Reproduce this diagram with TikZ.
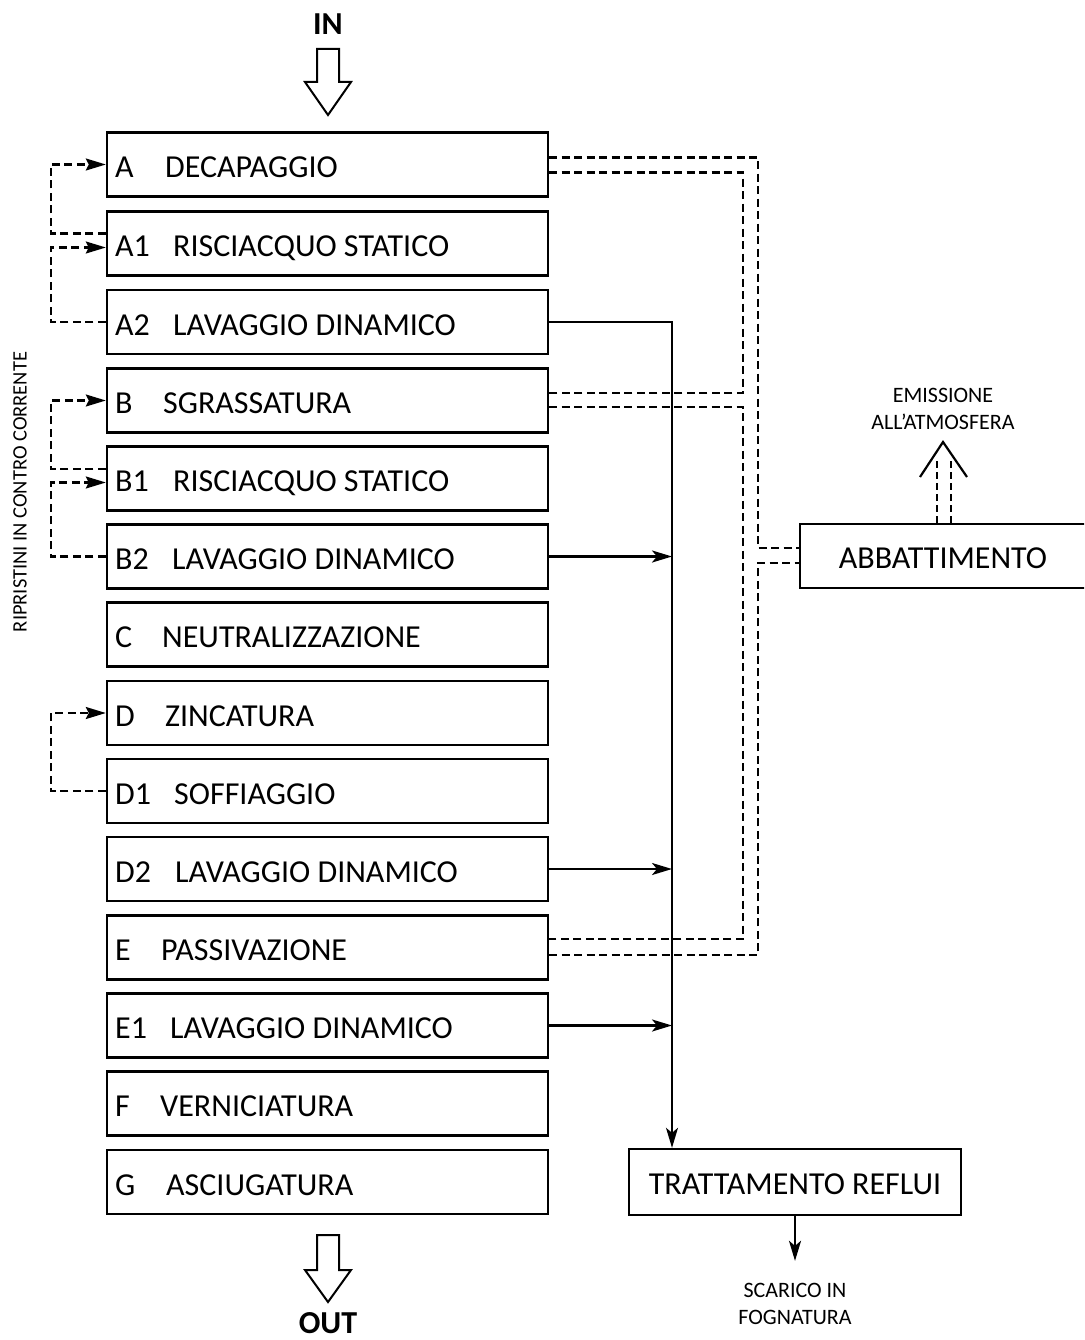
\documentclass[tikz,border=0pt]{standalone}
\usepackage{fontspec}
\setmainfont{Carlito}
\usetikzlibrary{arrows.meta}
\begin{document}
\begin{tikzpicture}[x=1pt,y=-1pt,
  stepbox/.style={draw,line width=2.4pt,minimum width=441pt,minimum height=64pt,inner sep=0pt},
  codelbl/.style={anchor=base west,inner sep=0pt,font=\fontsize{32}{36}\selectfont},
  steplbl/.style={anchor=base west,inner sep=0pt,font=\fontsize{32}{36}\selectfont},
  smalltxt/.style={font=\fontsize{22}{27.5}\selectfont,align=center,inner sep=0pt},
  dl/.style={line width=2.2pt,dash pattern=on 8pt off 4.5pt},
  sl/.style={line width=1.6pt},
  sa/.style={line width=2.4pt},
  tipd/.style={-{Stealth[length=20pt,width=12pt,inset=3pt]}},
  tips/.style={-{Stealth[length=20pt,width=12pt,inset=5pt]}},
  blockarrow/.style={draw,line width=2pt,fill=white}
]
\useasboundingbox (0,0) rectangle (1084,1340);

% IN / OUT
\node[font=\bfseries\fontsize{32}{36}\selectfont,anchor=base,inner sep=0pt] (in) at (328,35) {IN};
\draw[blockarrow] (317,49)--(339,49)--(339,82)--(351,82)--(328,115)--(305,82)--(317,82)--cycle;
\draw[blockarrow] (317,1235)--(339,1235)--(339,1270)--(351,1270)--(328,1302)--(305,1270)--(317,1270)--cycle;
\node[font=\bfseries\fontsize{32}{36}\selectfont,anchor=base,inner sep=0pt] (out) at (328,1333) {OUT};

% step boxes
\node[stepbox] (A)  at (327.5,164.5) {};
\node[stepbox] (A1) at (327.5,243.5) {};
\node[stepbox] (A2) at (327.5,322) {};
\node[stepbox] (B)  at (327.5,400.5) {};
\node[stepbox] (B1) at (327.5,478.5) {};
\node[stepbox] (B2) at (327.5,556.5) {};
\node[stepbox] (C)  at (327.5,634.5) {};
\node[stepbox] (D)  at (327.5,713) {};
\node[stepbox] (D1) at (327.5,791) {};
\node[stepbox] (D2) at (327.5,869) {};
\node[stepbox] (E)  at (327.5,947.5) {};
\node[stepbox] (E1) at (327.5,1025.5) {};
\node[stepbox] (F)  at (327.5,1103.5) {};
\node[stepbox] (G)  at (327.5,1182) {};

% labels
\node[codelbl] (Ac)  at (115,177.5) {A};   \node[steplbl] (An)  at (165,177.5) {DECAPAGGIO};
\node[codelbl] (A1c) at (115,256.5) {A1};  \node[steplbl] (A1n) at (173,256.5) {RISCIACQUO STATICO};
\node[codelbl] (A2c) at (115,335) {A2};    \node[steplbl] (A2n) at (173,335) {LAVAGGIO DINAMICO};
\node[codelbl] (Bc)  at (115,413.5) {B};   \node[steplbl] (Bn)  at (163,413.5) {SGRASSATURA};
\node[codelbl] (B1c) at (115,491.5) {B1};  \node[steplbl] (B1n) at (173,491.5) {RISCIACQUO STATICO};
\node[codelbl] (B2c) at (115,569.5) {B2};  \node[steplbl] (B2n) at (172,569.5) {LAVAGGIO DINAMICO};
\node[codelbl] (Cc)  at (115,647.5) {C};   \node[steplbl] (Cn)  at (162,647.5) {NEUTRALIZZAZIONE};
\node[codelbl] (Dc)  at (115,726) {D};     \node[steplbl] (Dn)  at (165,726) {ZINCATURA};
\node[codelbl] (D1c) at (115,804) {D1};    \node[steplbl] (D1n) at (174,804) {SOFFIAGGIO};
\node[codelbl] (D2c) at (115,882) {D2};    \node[steplbl] (D2n) at (175,882) {LAVAGGIO DINAMICO};
\node[codelbl] (Ec)  at (115,960.5) {E};   \node[steplbl] (En)  at (161,960.5) {PASSIVAZIONE};
\node[codelbl] (E1c) at (115,1038.5) {E1}; \node[steplbl] (E1n) at (170,1038.5) {LAVAGGIO DINAMICO};
\node[codelbl] (Fc)  at (115,1116.5) {F};  \node[steplbl] (Fn)  at (160,1116.5) {VERNICIATURA};
\node[codelbl] (Gc)  at (115,1195) {G};    \node[steplbl] (Gn)  at (166,1195) {ASCIUGATURA};

% side label
\node[font=\fontsize{20.5}{24}\selectfont,inner sep=0pt,rotate=90] (rip) at (20,492) {RIPRISTINI IN CONTRO CORRENTE};

% left dashed loops
\draw[dl,tipd] ([yshift=10pt]A1.west) -- ++(-55,0) |- (A.west);
\draw[dl,tipd] (A2.west) -- ++(-55,0) |- ([yshift=-4pt]A1.west);
\draw[dl,tipd] ([yshift=9.5pt]B1.west) -- ++(-55,0) |- (B.west);
\draw[dl,tipd] (B2.west) -- ++(-55,0) |- ([yshift=-4pt]B1.west);
\draw[dl,tipd] (D1.west) -- ++(-55,0) |- (D.west);

% right-side boxes
\begin{scope}
\clip (0,0) rectangle (1084,1340);
\node[draw,line width=2.4pt,minimum width=290pt,minimum height=64pt,inner sep=0pt] (ABB) at (945,556) {};
\end{scope}
\node[font=\fontsize{32}{36}\selectfont,anchor=base,inner sep=0pt] (ABBt) at (943,568) {ABBATTIMENTO};
\node[draw,line width=2.4pt,minimum width=332pt,minimum height=66pt,inner sep=0pt] (TR) at (795,1182) {};
\node[font=\fontsize{32}{36}\selectfont,anchor=base,inner sep=0pt] (TRt) at (795,1194) {TRATTAMENTO REFLUI};

% right dashed double pipe
\coordinate (ox) at (758,0);
\coordinate (ix) at (743,0);
\coordinate (abbU) at ([yshift=8pt]ABB.west);
\coordinate (abbL) at ([yshift=-7pt]ABB.west);
\coordinate (Au) at ([yshift=7pt]A.east);
\coordinate (Al) at ([yshift=-8pt]A.east);
\coordinate (Bu) at ([yshift=7.5pt]B.east);
\coordinate (Bl) at ([yshift=-6.5pt]B.east);
\coordinate (Eu) at ([yshift=8.5pt]E.east);
\coordinate (El) at ([yshift=-7.5pt]E.east);
\draw[dl] (Au) -| (ox |- abbU) -- (abbU);
\draw[dl] (Al) -| (ix |- Bu) -- (Bu);
\draw[dl] (Bl) -| (ix |- Eu) -- (Eu);
\draw[dl] (El) -| (ox |- abbL) -- (abbL);

% solid drain line
\coordinate (vx) at (672,0);
\draw[sl,tips] (A2.east) -| (vx |- TR.north);
\draw[sa,tips] (B2.east) -- (vx |- B2.east);
\draw[sa,tips] (D2.east) -- (vx |- D2.east);
\draw[sa,tips] (E1.east) -- (vx |- E1.east);

% emission
\node[smalltxt] (em) at (943,409) {EMISSIONE\\ALL'ATMOSFERA};
\coordinate (ch) at (943,442);
\draw[dl,dash pattern=on 7pt off 4pt] ([xshift=-6pt]ABB.north -| ch) -- ++(0,-62);
\draw[dl,dash pattern=on 7pt off 4pt] ([xshift=8pt]ABB.north -| ch) -- ++(0,-62);
\draw[line width=2.2pt] (920,477) -- (ch) -- (967,477);

% scarico
\node[smalltxt] (sc) at (795,1304) {SCARICO IN\\FOGNATURA};
\draw[sa,tips] (TR.south) -- ([yshift=22pt]sc.north);
\end{tikzpicture}
\end{document}
